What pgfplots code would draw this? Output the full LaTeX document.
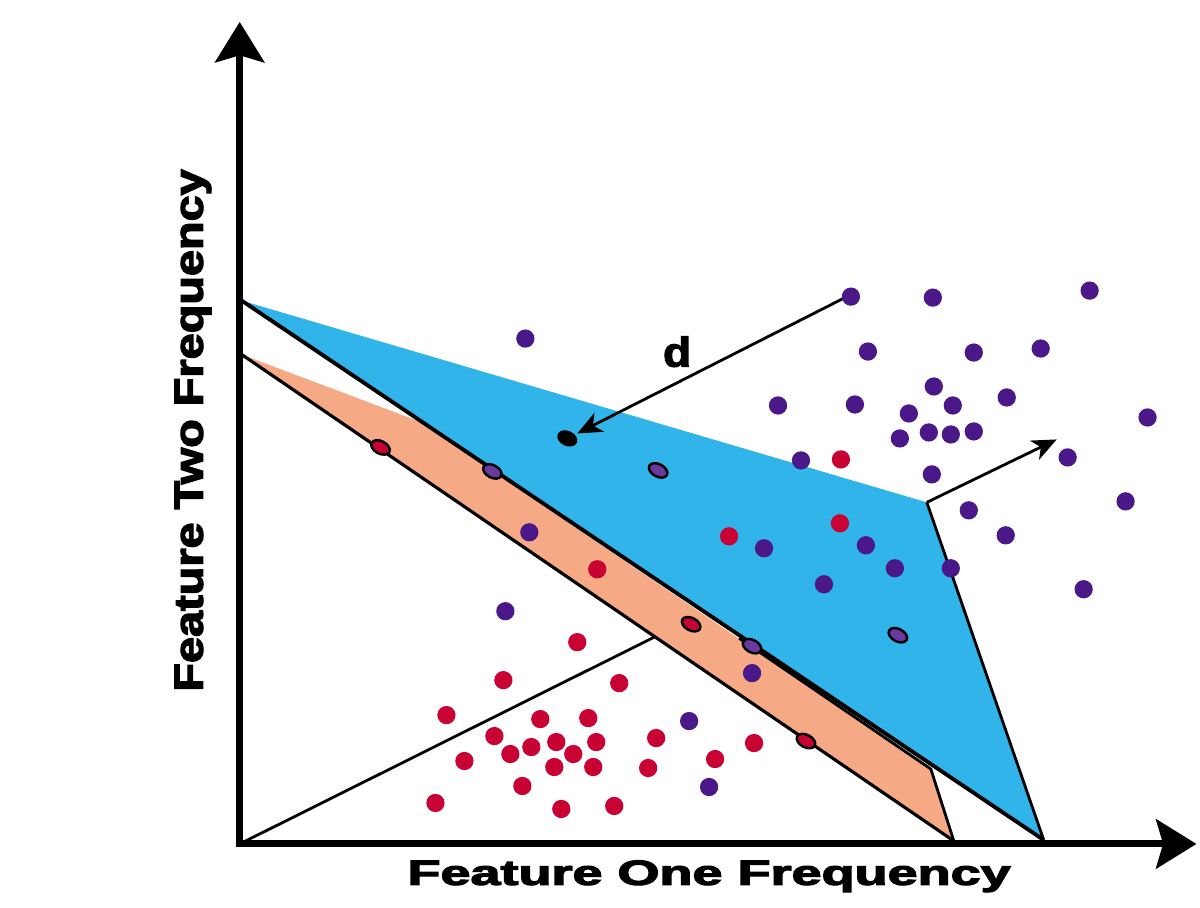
\documentclass[border=0pt]{standalone}
\usepackage{pgfplots}
\pgfplotsset{compat=1.18}
\usepackage{graphicx}
\usepackage{fontspec}
\usetikzlibrary{arrows.meta}
\setmainfont{Liberation Sans}
\newfontfamily\heavy[BoldFeatures={FakeBold=3}]{Liberation Sans}

\definecolor{fillblue}{RGB}{48,180,234}
\definecolor{fillorange}{RGB}{245,170,133}
\definecolor{ptred}{RGB}{200,2,50}
\definecolor{ptpurple}{RGB}{74,24,136}
\definecolor{ptpurplelt}{RGB}{104,58,160}

\begin{document}
\begin{tikzpicture}
  \begin{axis}[
    scale only axis,
    width=9.58cm,
    height=8.23cm,
    xmin=0, xmax=958,
    ymin=0, ymax=823,
    hide axis,
    clip=false
  ]
    % page extent
    \path (axis cs:-240,-64) rectangle (axis cs:960,845);

    % regions
    \addplot[fill=fillorange, draw=none] coordinates {
      (2,490) (180,423) (692,75) (715,3)
    } -- cycle;
    \addplot[fill=fillblue, draw=none] coordinates {
      (2,544) (688,342) (805,4)
    } -- cycle;

    % boundary lines
    \addplot[line width=1.1pt] coordinates {(2,544) (805,4)};
    \addplot[line width=0.9pt] coordinates {(2,490) (715,3)};
    \addplot[line width=0.8pt] coordinates {(500,206) (692,75) (715,3)};
    \addplot[line width=0.8pt] coordinates {(688,342) (805,4)};
    \addplot[line width=0.8pt] coordinates {(0,0) (415,207)};

    % arrows
    \addplot[line width=0.8pt, -{Stealth[length=7pt,width=6pt,inset=2pt]}]
      coordinates {(688,342) (818,405)};
    \addplot[line width=0.8pt, -{Stealth[length=7pt,width=6pt,inset=2pt]}]
      coordinates {(608,548) (338,411)};

    % class A (purple)
    \addplot[only marks, mark=*, mark size=2.4pt, ptpurple] coordinates {
      (612,548) (694,547) (851,554) (286,506) (629,493) (735,492) (802,496)
      (539,439) (616,440) (695,458) (670,431) (714,439) (768,447) (909,427)
      (661,406) (690,412) (712,410) (735,413) (562,384) (829,387) (693,370)
      (730,334) (887,343) (767,309) (525,296) (627,299) (656,276) (585,260)
      (712,276) (845,255) (290,312) (266,233) (513,171) (450,123) (470,57)
    };

    % class B (red)
    \addplot[only marks, mark=*, mark size=2.4pt, ptred] coordinates {
      (602,385) (601,321) (490,308) (358,275) (338,202) (264,164) (380,161)
      (207,129) (301,125) (349,126) (255,108) (292,97) (317,102) (357,102)
      (417,106) (515,101) (225,83) (271,90) (334,90) (315,77) (354,77)
      (409,76) (476,85) (283,58) (196,41) (322,35) (375,38)
    };

    % support vectors
    \addplot[only marks, mark=*, mark size=2.1pt,
      mark options={fill=ptred, draw=black, line width=0.7pt,
                    rotate=-28, xscale=1.35, yscale=0.85}] coordinates {
      (141,397) (452,220) (567,103)
    };
    \addplot[only marks, mark=*, mark size=2.1pt,
      mark options={fill=ptpurplelt, draw=black, line width=0.7pt,
                    rotate=-28, xscale=1.35, yscale=0.85}] coordinates {
      (253,373) (419,374) (513,198) (659,209)
    };
    \addplot[only marks, mark=*, mark size=2.1pt,
      mark options={fill=black, draw=black, line width=0.5pt,
                    rotate=-25, xscale=1.3, yscale=0.9}] coordinates {
      (328,406)
    };

    % axes
    \addplot[line width=2pt,
      {Stealth[length=11.5pt,width=14pt,inset=2pt]}-{Stealth[length=11.5pt,width=14pt,inset=2pt]}]
      coordinates {(0,823) (0,0) (958,0)};

    % labels
    \node[anchor=base, inner sep=0pt] at (axis cs:438,478)
      {\resizebox{0.28cm}{0.30cm}{\heavy\bfseries d}};
    \node[anchor=base, inner sep=0pt] at (axis cs:470,-41)
      {\resizebox{6.04cm}{0.245cm}{\heavy\bfseries Feature One Frequency}};
    \node[anchor=base, inner sep=0pt, rotate=90] at (axis cs:-37,414)
      {\resizebox{5.23cm}{0.28cm}{\heavy\bfseries Feature Two Frequency}};
  \end{axis}
\end{tikzpicture}
\end{document}
